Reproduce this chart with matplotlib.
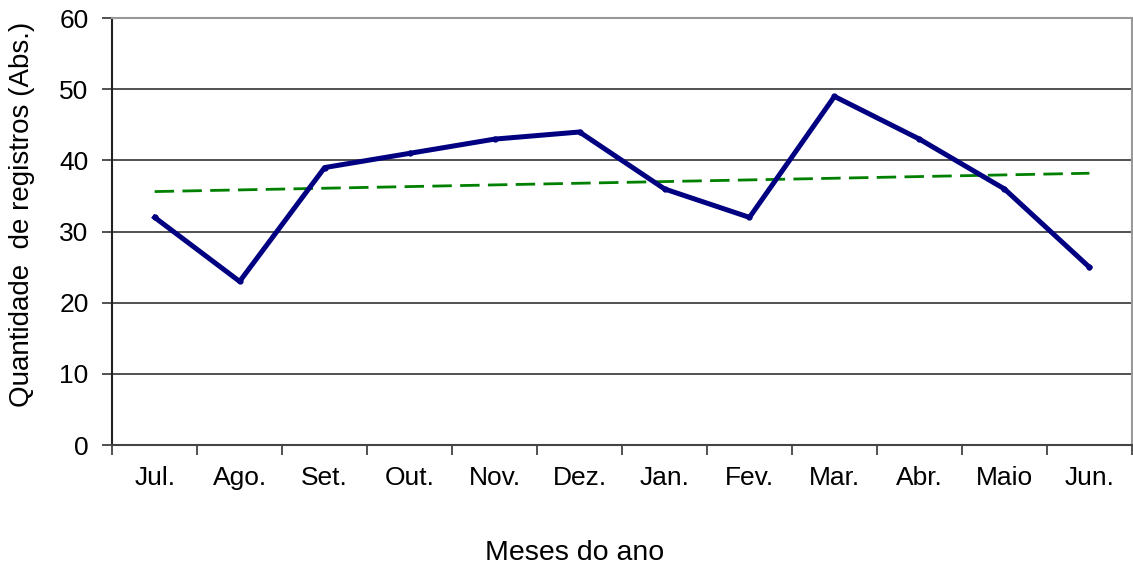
import numpy as np
import matplotlib; matplotlib.use("Agg")
import matplotlib.pyplot as plt

plt.rcParams["font.family"] = ["Liberation Sans", "DejaVu Sans"]

meses = ["Jul.", "Ago.", "Set.", "Out.", "Nov.", "Dez.", "Jan.", "Fev.", "Mar.", "Abr.", "Maio", "Jun."]
registros = [32, 23, 39, 41, 43, 44, 36, 32, 49, 43, 36, 25]
y_ticks = [0, 10, 20, 30, 40, 50, 60]

x = np.arange(len(meses))
a, b = np.polyfit(x, registros, 1)   # linha de tendencia linear
trend = a * x + b

fig = plt.figure(figsize=(11.33, 5.67), dpi=100)
ax = fig.add_axes([0.099, 0.215, 0.9, 0.753])

for v in y_ticks[1:-1]:
    ax.axhline(v, color="#333333", lw=1.2, zorder=1)

ax.plot(x, trend, color="#008000", lw=2.0, ls=(0, (7, 3)), zorder=2)
ax.plot(x, registros, color="#000080", lw=3.6, marker="o", ms=3.5, zorder=3)

ax.set_xlim(-0.5, len(meses) - 0.5)
ax.set_ylim(0, 60)
ax.set_yticks(y_ticks)
ax.set_yticklabels([str(v) for v in y_ticks], fontsize=19)

# ticks nas divisorias entre categorias, rotulos centrados
ax.set_xticks(np.arange(len(meses) + 1) - 0.5)
ax.set_xticklabels([])
ax.set_xticks(x, minor=True)
ax.set_xticklabels(meses, minor=True, fontsize=19)
ax.tick_params(axis="x", which="major", direction="out", length=7, width=1.2, color="#333333")
ax.tick_params(axis="x", which="minor", length=0, pad=15)
ax.tick_params(axis="y", direction="out", length=7, width=1.2, color="#333333", pad=10)

ax.spines["left"].set_color("#222222"); ax.spines["left"].set_linewidth(1.5)
ax.spines["bottom"].set_color("#444444"); ax.spines["bottom"].set_linewidth(1.5)
ax.spines["top"].set_color("#999999"); ax.spines["top"].set_linewidth(1.5)
ax.spines["right"].set_color("#999999"); ax.spines["right"].set_linewidth(1.5)

# titulos dos eixos posicionados como no original (nao centrados no eixo)
fig.text(575 / 1133, 1 - 553 / 567, "Meses do ano", fontsize=20.5, ha="center", va="center")
fig.text(22 / 1133, 1 - 214 / 567, "Quantidade  de registros (Abs.)", fontsize=20,
         rotation=90, ha="center", va="center")

fig.savefig("out.png", dpi=100)
